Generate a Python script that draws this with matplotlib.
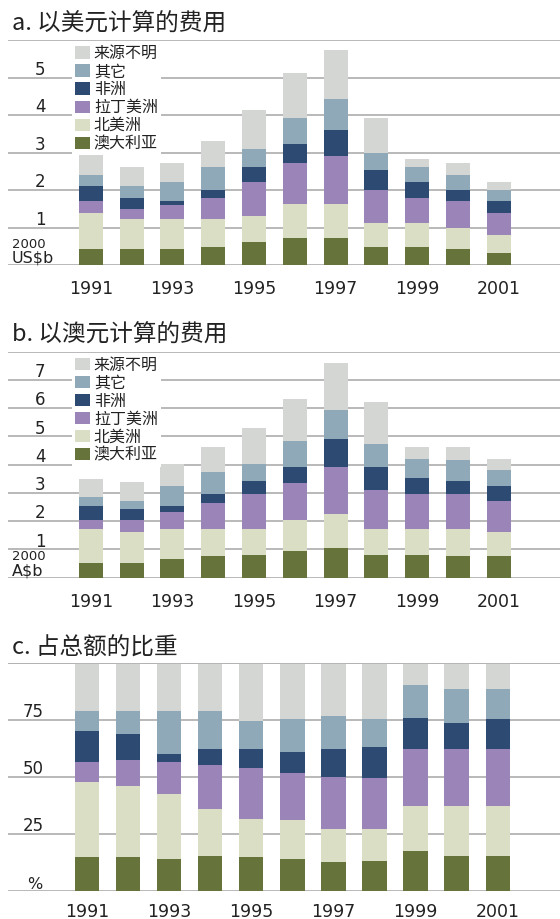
import matplotlib.pyplot as plt
import matplotlib.transforms as mtransforms
from matplotlib.patches import Patch
import numpy as np

plt.rcParams['font.family'] = ['Noto Sans CJK SC', 'DejaVu Sans']

years = np.arange(1991, 2002)
tick_years = years[::2]

regions = ["澳大利亚", "北美洲", "拉丁美洲", "非洲", "其它", "来源不明"]
colors = ["#66733a", "#dadec4", "#9a84b8", "#2c4a72", "#8fa9b9", "#d4d6d4"]

# spending in US$b (2000 prices), one list per region, bottom to top
aus_usd = [0.42, 0.42, 0.42, 0.49, 0.62, 0.71, 0.71, 0.49, 0.49, 0.42, 0.31]
na_usd = [0.98, 0.80, 0.80, 0.73, 0.69, 0.91, 0.91, 0.62, 0.62, 0.58, 0.49]
lat_usd = [0.30, 0.27, 0.39, 0.57, 0.91, 1.09, 1.30, 0.89, 0.68, 0.70, 0.60]
afr_usd = [0.40, 0.30, 0.09, 0.21, 0.40, 0.51, 0.69, 0.53, 0.43, 0.30, 0.30]
oth_usd = [0.31, 0.31, 0.52, 0.62, 0.48, 0.71, 0.83, 0.47, 0.40, 0.41, 0.30]
unk_usd = [0.59, 0.52, 0.49, 0.69, 1.04, 1.20, 1.30, 0.92, 0.21, 0.30, 0.22]

# spending in A$b (2000 prices)
aus_aud = [0.53, 0.53, 0.65, 0.76, 0.82, 0.94, 1.06, 0.82, 0.82, 0.76, 0.76]
na_aud = [1.20, 1.08, 1.08, 0.97, 0.91, 1.10, 1.20, 0.91, 0.91, 0.97, 0.85]
lat_aud = [0.31, 0.43, 0.58, 0.93, 1.22, 1.31, 1.67, 1.39, 1.22, 1.22, 1.11]
afr_aud = [0.50, 0.38, 0.23, 0.29, 0.46, 0.58, 0.98, 0.81, 0.58, 0.46, 0.52]
oth_aud = [0.30, 0.30, 0.70, 0.79, 0.63, 0.92, 1.03, 0.80, 0.68, 0.74, 0.57]
unk_aud = [0.67, 0.67, 0.77, 0.87, 1.27, 1.48, 1.66, 1.49, 0.40, 0.46, 0.40]

# share of total, %
aus_pct = [14.7, 14.7, 14.0, 15.3, 14.7, 14.0, 12.5, 13.2, 17.5, 15.3, 15.3]
na_pct = [33.2, 31.2, 28.4, 20.7, 16.9, 17.0, 14.7, 14.0, 19.9, 22.1, 22.1]
lat_pct = [8.6, 11.3, 14.1, 19.2, 22.1, 20.5, 22.9, 22.3, 24.9, 24.9, 24.9]
afr_pct = [13.7, 11.6, 3.6, 7.1, 8.6, 9.5, 12.2, 13.5, 13.5, 11.4, 12.8]
oth_pct = [8.5, 9.9, 18.6, 16.4, 12.1, 14.1, 14.3, 12.1, 14.3, 14.9, 13.5]
unk_pct = [21.3, 21.3, 21.3, 21.3, 25.6, 24.9, 23.4, 24.9, 9.9, 11.4, 11.4]

usd = [aus_usd, na_usd, lat_usd, afr_usd, oth_usd, unk_usd]
aud = [aus_aud, na_aud, lat_aud, afr_aud, oth_aud, unk_aud]
pct = [aus_pct, na_pct, lat_pct, afr_pct, oth_pct, unk_pct]

GRID = "#b3b3b3"
TXT = "#222222"

fig = plt.figure(figsize=(5.6, 9.19), dpi=100)


def stacked(ax, series, ymax, yticks, tick_x, pad=11, width=0.59):
    bottom = np.zeros(len(years))
    for vals, c in zip(series, colors):
        ax.bar(years, vals, width=width, bottom=bottom, color=c,
               linewidth=0, zorder=2)
        bottom += np.array(vals)
    for y in [0] + list(yticks) + [ymax]:
        ax.axhline(y, color=GRID, lw=1.3, zorder=1)
    trans = mtransforms.blended_transform_factory(ax.transAxes, ax.transData)
    for y in yticks:
        ax.annotate(str(y), xy=(tick_x, y), xycoords=trans, xytext=(0, 2),
                    textcoords="offset points", ha="center", va="baseline",
                    fontsize=12, family="DejaVu Sans", color=TXT)
    ax.set_xlim(1988.97, 2002.5)
    ax.set_ylim(0, ymax)
    ax.set_xticks(tick_years)
    ax.set_xticklabels([str(y) for y in tick_years], family="DejaVu Sans",
                       fontsize=12.5, color=TXT)
    ax.tick_params(axis="x", length=0, pad=pad)
    ax.set_yticks([])
    for s in ax.spines.values():
        s.set_visible(False)
    return trans


def unit_label(ax, trans, top, bottom, x=0.007):
    ax.annotate(bottom, xy=(x, 0), xycoords=trans, xytext=(0, 1.5),
                textcoords="offset points", ha="left", va="baseline",
                fontsize=11.5, family="DejaVu Sans", color=TXT)
    if top:
        ax.annotate(top, xy=(x, 0), xycoords=trans, xytext=(0, 12.5),
                    textcoords="offset points", ha="left", va="baseline",
                    fontsize=9.5, family="DejaVu Sans", color=TXT)


def add_legend(ax):
    handles = [Patch(facecolor=c, edgecolor="none") for c in colors][::-1]
    leg = ax.legend(handles, regions[::-1], loc="upper left",
                    bbox_to_anchor=(0.116, 0.992), fontsize=11.5,
                    frameon=True, facecolor="white", edgecolor="none",
                    framealpha=1, fancybox=False, borderpad=0.2,
                    labelspacing=0.065, handlelength=0.92, handleheight=0.8,
                    handletextpad=0.25, borderaxespad=0)
    for t in leg.get_texts():
        t.set_color(TXT)


# a. spending in US dollars
ax1 = fig.add_axes([0.0143, 0.7116, 0.9857, 0.2448])
tr1 = stacked(ax1, usd, 6, [1, 2, 3, 4, 5], 0.058)
unit_label(ax1, tr1, "2000", "US$b")
add_legend(ax1)
fig.text(0.021, 0.974, "a. 以美元计算的费用", fontsize=17, va="center", color=TXT)

# b. spending in Australian dollars
ax2 = fig.add_axes([0.0143, 0.3714, 0.9857, 0.2459])
tr2 = stacked(ax2, aud, 8, [1, 2, 3, 4, 5, 6, 7], 0.058)
unit_label(ax2, tr2, "2000", "A$b")
add_legend(ax2)
fig.text(0.021, 0.6355, "b. 以澳元计算的费用", fontsize=17, va="center", color=TXT)

# c. share of total
ax3 = fig.add_axes([0.0143, 0.0305, 0.9857, 0.2486])
tr3 = stacked(ax3, pct, 100, [25, 50, 75], 0.045, pad=8.5)
ax3.set_xlim(1989.07, 2002.52)
ax3.axhline(100, color=GRID, lw=1.3, zorder=3)
unit_label(ax3, tr3, None, "%", x=0.035)
fig.text(0.021, 0.295, "c. 占总额的比重", fontsize=17, va="center", color=TXT)

fig.savefig("out.png", dpi=100)
